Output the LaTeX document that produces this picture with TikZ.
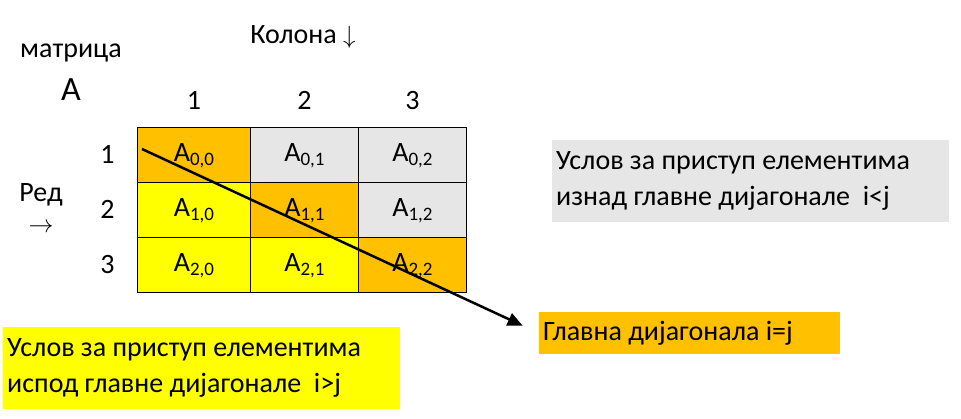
\documentclass[tikz,border=0pt]{standalone}
\usepackage{fontspec}
\setmainfont{Carlito}
\usetikzlibrary{matrix}
\usetikzlibrary{arrows.meta}
\usetikzlibrary{positioning}
\definecolor{glavna}{HTML}{FFC000}
\definecolor{ispod}{HTML}{FFFF00}
\definecolor{iznad}{HTML}{E7E6E6}
\newcommand{\elem}[2]{A\raisebox{-0.3ex}{\fontsize{19}{19}\selectfont #1,#2}}
\tikzset{
  uslov/.style={anchor=north west, minimum width=397pt, minimum height=82pt,
    text width=389pt, align=flush left, inner xsep=4pt, inner ysep=0pt},
}

\begin{document}
\begin{tikzpicture}[x=1pt,y=-1pt,font=\fontsize{28}{36}\selectfont]
      \useasboundingbox (0,0) rectangle (961,419);
      \matrix(m)[matrix of nodes, anchor=north west, inner sep=0pt, outer sep=0pt,
      row sep=-0.8pt, column sep=-0.8pt,
      nodes={draw, line width=0.8pt, minimum width=108pt, minimum height=55pt,
        inner sep=0pt, text height=19pt, text depth=5pt},
      column 1/.style={nodes={minimum width=113pt}}] at (137,127) {
        |[fill=glavna]| \elem00 & |[fill=iznad]| \elem01 & |[fill=iznad]| \elem02 \\
        |[fill=ispod]| \elem10 & |[fill=glavna]| \elem11 & |[fill=iznad]| \elem12 \\
        |[fill=ispod]| \elem20 & |[fill=ispod]| \elem21 & |[fill=glavna]| \elem22 \\};

      % zaglavlja kolona i redova
      \foreach \i in {1,2,3} {
        \node (k\i) at ([yshift=27pt]m-1-\i.north) {\i};
        \node (r\i) at ([xshift=-30pt]m-\i-1.west) {\i};
      }
      \node (mat) at (71,53) {матрица};
      \node[font=\fontsize{34}{34}\selectfont] (ime) at (71,90) {A};
      \node (kol) at (303,37) {Колона $\downarrow$};
      \node (red) at (41,195) {Ред};
      \node (strelica) at (41,228) {$\rightarrow$};

      % objasnjenja
      \node[uslov, fill=iznad] (gore) at (552,140)
        {Услов за приступ елементима\\изнад главне дијагонале\ \ i<j};
      \node[uslov, fill=ispod] (dole) at (3,327)
        {Услов за приступ елементима\\испод главне дијагонале\ \ i>j};
      \node[anchor=north west, fill=glavna, minimum width=301pt, minimum height=42pt,
        text width=293pt, align=flush left, inner xsep=4pt, inner ysep=0pt] (dijag) at (539,312)
        {Главна дијагонала i=j};

      \coordinate (d0) at (142,149);
      \draw[line width=2.5pt, -{Triangle[length=15pt,width=13pt]}, shorten >=18pt]
        (d0) -- (dijag.west);
    \end{tikzpicture}
\end{document}
